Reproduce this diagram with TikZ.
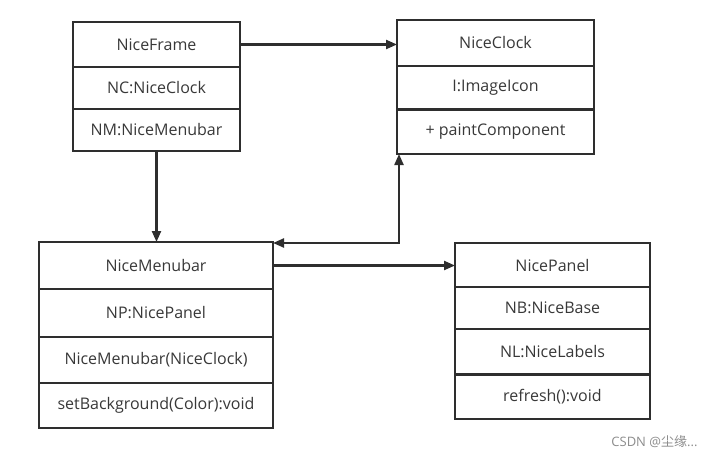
\documentclass[tikz,border=0pt]{standalone}
\usepackage{fontspec}
\setmainfont{Open Sans}
\newfontfamily\cjk{Noto Sans CJK SC}
\usetikzlibrary{positioning,arrows.meta}

\begin{document}
\begin{tikzpicture}[x=1pt, y=-1pt,
    every node/.style={font=\fontsize{16}{18}\selectfont, text=black!78},
    row/.style={draw=black!82, line width=1.8pt, outer sep=0pt, inner sep=0pt, minimum height=#1},
    link/.style={draw=black!82, line width=2.2pt, -{Triangle[length=11pt,width=9pt]}}]
    \useasboundingbox (0,0) rectangle (713,460);
    % NiceFrame
    \begin{scope}[every node/.append style={minimum width=167pt}]
      \node[row=45pt] (frame) at (156.5,44.5) {NiceFrame};
      \node[row=42pt, below=0pt of frame] (frameNC) {NC:NiceClock};
      \node[row=42pt, below=0pt of frameNC] (frameNM) {NM:NiceMenubar};
    \end{scope}
    % NiceClock
    \begin{scope}[every node/.append style={minimum width=197pt}]
      \node[row=46pt] (clock) at (495.5,43) {NiceClock};
      \node[row=44pt, below=0pt of clock] (clockI) {I:ImageIcon};
      \node[row=44pt, below=0pt of clockI] (clockPC) {+ paintComponent};
    \end{scope}
    \draw[draw=black!82, line width=3pt] (clockI.south west) -- (clockI.south east);
    % NiceMenubar
    \begin{scope}[every node/.append style={minimum width=234pt}]
      \node[row=47pt] (menubar) at (156,265.5) {NiceMenubar};
      \node[row=48pt, below=0pt of menubar] (menubarNP) {NP:NicePanel};
      \node[row=46pt, below=0pt of menubarNP] (menubarNC) {NiceMenubar(NiceClock)};
      \node[row=45pt, below=0pt of menubarNC] (menubarBG) {setBackground(Color):void};
    \end{scope}
    % NicePanel
    \begin{scope}[every node/.append style={minimum width=195pt}]
      \node[row=44pt] (panel) at (552.5,265) {NicePanel};
      \node[row=42pt, below=0pt of panel] (panelNB) {NB:NiceBase};
      \node[row=45.5pt, below=0pt of panelNB] (panelNL) {NL:NiceLabels};
      \node[row=44.5pt, below=0pt of panelNL] (panelRF) {refresh():void};
    \end{scope}
    \draw[draw=black!82, line width=3.5pt] (panelNL.south west) -- (panelNL.south east);
    % links
    \draw[link] (frame.east) -- (frame.east -| clock.west);
    \draw[link] (frameNM.south) -- (frameNM.south |- menubar.north);
    \draw[link] (menubar.east) -- (menubar.east -| panel.west);
    \coordinate (bend) at ([xshift=2pt]clockPC.south west |- menubar.north east);
    \draw[link, {Triangle[length=11pt,width=9pt]}-{Triangle[length=11pt,width=9pt]}]
      ([yshift=-1pt]menubar.north east) -- ([yshift=-1pt]bend) -- ([xshift=2pt]clockPC.south west);
    \node[text=black!45, font=\fontsize{13}{15}\selectfont, anchor=east] (mark) at (701,442) {CSDN @{\cjk 尘缘}...};
\end{tikzpicture}
\end{document}
